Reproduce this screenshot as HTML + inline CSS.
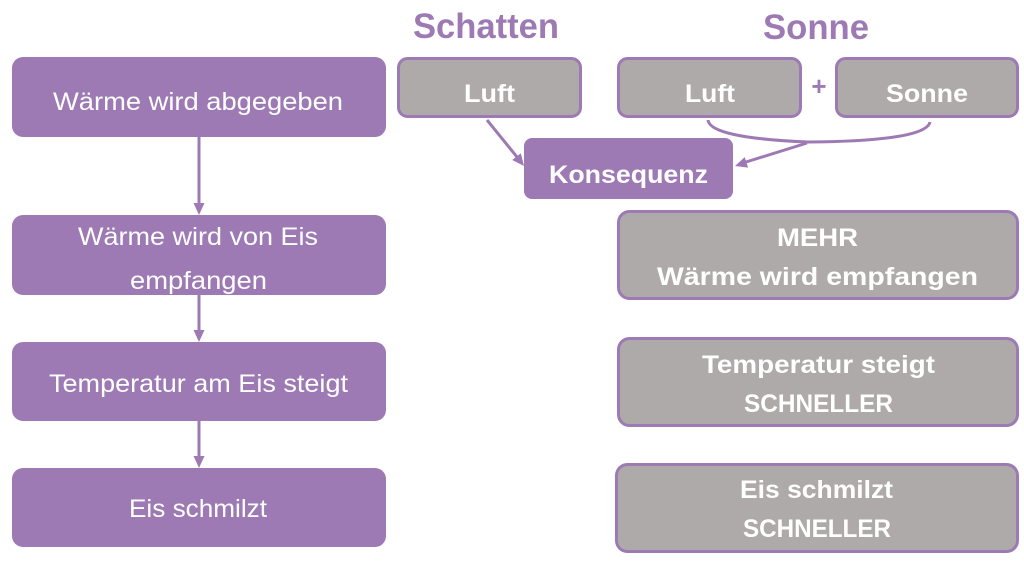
<!DOCTYPE html>
<html><head><meta charset="utf-8"><style>
html,body{margin:0;padding:0;background:#fff;width:1024px;height:566px;overflow:hidden}
svg{display:block}
text{font-family:"Liberation Sans",sans-serif;fill:#fff}
.b{font-weight:bold}
</style></head><body>
<svg width="1024" height="566" viewBox="0 0 1024 566" xmlns="http://www.w3.org/2000/svg">
<!-- Left column -->
<rect x="12" y="57" width="374" height="80" rx="11" fill="#9d7ab4"/>
<rect x="12" y="215" width="374" height="80" rx="11" fill="#9d7ab4"/>
<rect x="12" y="342" width="374" height="79" rx="11" fill="#9d7ab4"/>
<rect x="12" y="468" width="374" height="79" rx="11" fill="#9d7ab4"/>
<text x="53" y="110" font-size="25" textLength="290" lengthAdjust="spacingAndGlyphs">Wärme wird abgegeben</text>
<text x="78" y="245" font-size="25" textLength="240" lengthAdjust="spacingAndGlyphs">Wärme wird von Eis</text>
<text x="130" y="289" font-size="25" textLength="137" lengthAdjust="spacingAndGlyphs">empfangen</text>
<text x="49" y="392" font-size="25" textLength="299" lengthAdjust="spacingAndGlyphs">Temperatur am Eis steigt</text>
<text x="129" y="517" font-size="25" textLength="138" lengthAdjust="spacingAndGlyphs">Eis schmilzt</text>
<!-- vertical arrows -->
<g stroke="#9d7ab4" stroke-width="3">
<line x1="199" y1="137" x2="199" y2="205"/>
<line x1="199" y1="295" x2="199" y2="332"/>
<line x1="199" y1="421" x2="199" y2="458"/>
</g>
<g fill="#9d7ab4">
<polygon points="193.5,203 204.5,203 199,215"/>
<polygon points="193.5,330 204.5,330 199,342"/>
<polygon points="193.5,456 204.5,456 199,468"/>
</g>
<!-- Titles -->
<text class="b" x="413" y="38" font-size="35" textLength="146" lengthAdjust="spacingAndGlyphs" style="fill:#9d7ab4">Schatten</text>
<text class="b" x="763" y="39" font-size="35" textLength="106" lengthAdjust="spacingAndGlyphs" style="fill:#9d7ab4">Sonne</text>
<!-- grey boxes -->
<g fill="#aeaaa9" stroke="#9d7ab4" stroke-width="3">
<rect x="398.5" y="58.5" width="182" height="58" rx="9"/>
<rect x="618.5" y="58.5" width="182" height="58" rx="9"/>
<rect x="836.5" y="58.5" width="181" height="58" rx="9"/>
<rect x="618.5" y="211.5" width="399" height="87" rx="11"/>
<rect x="618.5" y="338.5" width="399" height="87" rx="11"/>
<rect x="616.5" y="464.5" width="401" height="87" rx="11"/>
</g>
<text class="b" x="464" y="102" font-size="25" textLength="51" lengthAdjust="spacingAndGlyphs">Luft</text>
<text class="b" x="685" y="102" font-size="25" textLength="50" lengthAdjust="spacingAndGlyphs">Luft</text>
<text class="b" x="886" y="102" font-size="25" textLength="82" lengthAdjust="spacingAndGlyphs">Sonne</text>
<text class="b" x="819" y="95" font-size="26" text-anchor="middle" style="fill:#9d7ab4">+</text>
<!-- Konsequenz -->
<rect x="524" y="138" width="209" height="61" rx="8" fill="#9d7ab4"/>
<text class="b" x="549" y="183" font-size="25" textLength="159" lengthAdjust="spacingAndGlyphs">Konsequenz</text>
<!-- connectors -->
<g stroke="#9d7ab4" stroke-width="3" fill="none">
<line x1="487" y1="120" x2="517" y2="157"/>
<path d="M708,120 Q710,138 808,142 Q926,141 930,122"/>
<line x1="807" y1="143" x2="746" y2="162"/>
</g>
<g fill="#9d7ab4">
<polygon points="512.2,160 520.8,153.2 524,166"/>
<polygon points="744.7,157.1 748.1,167.6 735,166"/>
</g>
<!-- right texts -->
<text class="b" x="777" y="246" font-size="25" textLength="81" lengthAdjust="spacingAndGlyphs">MEHR</text>
<text class="b" x="657" y="285" font-size="25" textLength="321" lengthAdjust="spacingAndGlyphs">Wärme wird empfangen</text>
<text class="b" x="702" y="373" font-size="25" textLength="233" lengthAdjust="spacingAndGlyphs">Temperatur steigt</text>
<text class="b" x="744" y="412" font-size="25" textLength="149" lengthAdjust="spacingAndGlyphs">SCHNELLER</text>
<text class="b" x="740" y="498" font-size="25" textLength="153" lengthAdjust="spacingAndGlyphs">Eis schmilzt</text>
<text class="b" x="743" y="537" font-size="25" textLength="148" lengthAdjust="spacingAndGlyphs">SCHNELLER</text>
</svg>
</body></html>
